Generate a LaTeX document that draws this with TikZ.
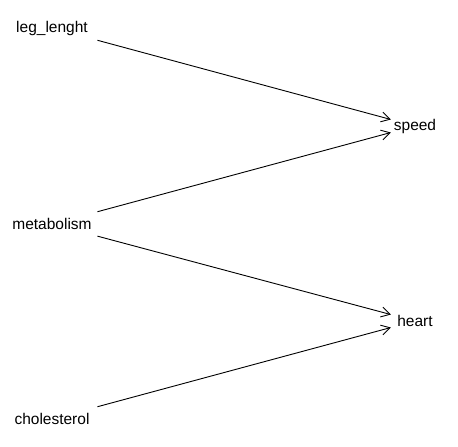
\documentclass[tikz,border=0pt]{standalone}
\usepackage{fontspec}
\setmainfont{Liberation Sans}
\usetikzlibrary{arrows.meta}
\begin{document}
\begin{tikzpicture}[x=1pt,y=-1pt,
  lbl/.style={inner sep=0pt, font=\fontsize{15.5}{18}\selectfont},
  edge/.style={line width=0.9pt, -{Straight Barb[angle=60:10pt]}, shorten <=47pt, shorten >=25pt}]
\useasboundingbox (0,0) rectangle (458,447);
\node[lbl] (leg) at (52,28) {leg\_lenght};
\node[lbl] (met) at (52,224) {metabolism};
\node[lbl] (cho) at (52,419) {cholesterol};
\node[lbl] (spd) at (415,126) {speed};
\node[lbl] (hrt) at (415,321) {heart};
\draw[edge] (leg.center) -- (spd.center);
\draw[edge] (met.center) -- (spd.center);
\draw[edge] (met.center) -- (hrt.center);
\draw[edge] (cho.center) -- (hrt.center);
\end{tikzpicture}
\end{document}
